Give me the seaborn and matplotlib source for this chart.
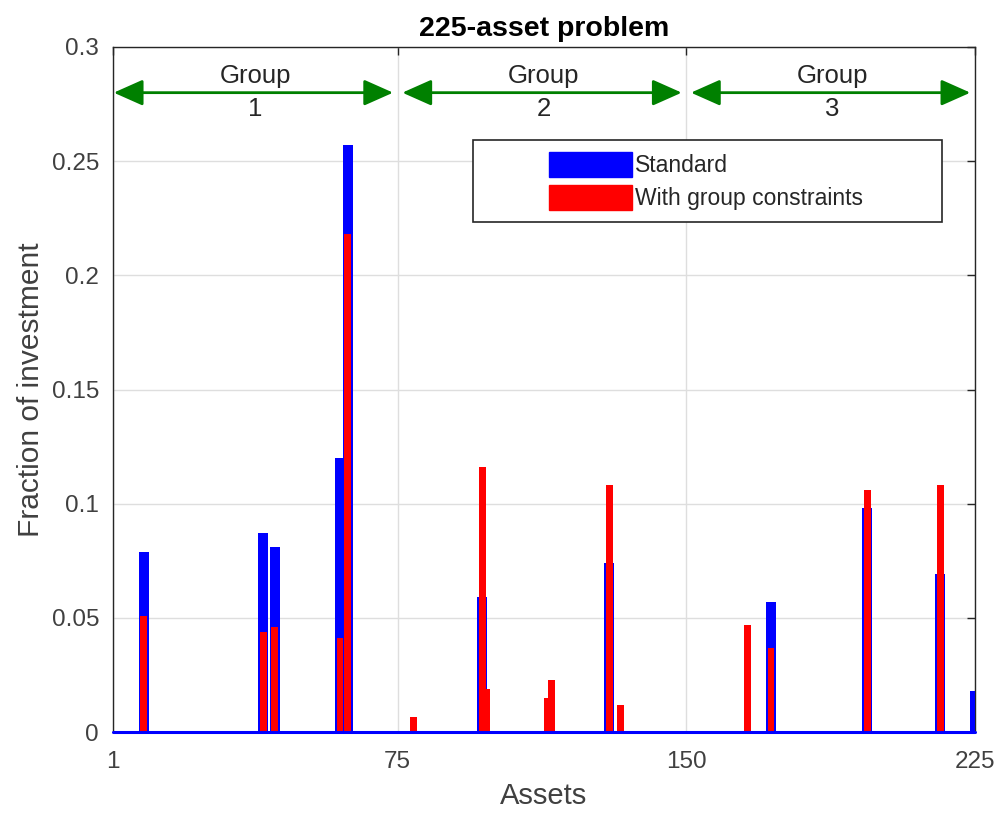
import matplotlib
matplotlib.use("Agg")
import matplotlib.pyplot as plt
import seaborn as sns
import pandas as pd
import numpy as np
from matplotlib.patches import Patch, Rectangle, ArrowStyle

# data (only non-zero weights, everything else is 0)
n_assets = 225
std_assets = [9, 40, 43, 60, 62, 97, 130, 172, 197, 216, 225]
std_weights = [0.079, 0.087, 0.081, 0.120, 0.257, 0.059, 0.074, 0.057, 0.098, 0.069, 0.018]
grp_assets = [9, 40, 43, 60, 62, 79, 97, 98, 114, 115, 130, 133, 166, 172, 197, 216]
grp_weights = [0.051, 0.044, 0.046, 0.041, 0.218, 0.0066, 0.116, 0.019, 0.015, 0.023,
               0.108, 0.012, 0.047, 0.037, 0.106, 0.108]
group_bounds = [(1, 75), (76, 150), (151, 225)]
group_names = ['1', '2', '3']
series_names = ['Standard', 'With group constraints']
xticks = [1, 75, 150, 225]

assets = np.arange(1, n_assets + 1)
std = np.zeros(n_assets)
std[np.array(std_assets) - 1] = std_weights
grp = np.zeros(n_assets)
grp[np.array(grp_assets) - 1] = grp_weights
df = pd.DataFrame({'asset': assets, 'std': std, 'grp': grp})

sns.set_style('white')
plt.rcParams['font.family'] = ['Liberation Sans', 'DejaVu Sans']

blue = '#0000ff'
red = '#ff0000'
green = '#008000'
dark = '#262626'

fig = plt.figure(figsize=(10.05, 8.13), dpi=100)
ax = fig.add_axes([0.1124, 0.0996, 0.8577, 0.8426])

sns.barplot(data=df, x='asset', y='std', native_scale=True, width=2.6, color=blue,
            saturation=1, linewidth=0, errorbar=None, ax=ax, zorder=3)
sns.barplot(data=df, x='asset', y='grp', native_scale=True, width=1.8, color=red,
            saturation=1, linewidth=0, errorbar=None, ax=ax, zorder=4)
ax.axhline(0, color=blue, lw=2.2, zorder=5, clip_on=False)

ax.set_xlim(1, 225)
ax.set_ylim(0, 0.3)
ax.set_xticks(xticks)
ax.set_xticklabels([str(t) for t in xticks])
yt = np.arange(0, 0.301, 0.05)
ax.set_yticks(yt)
ax.set_yticklabels(['%g' % round(v, 2) for v in yt])
ax.grid(True, color='#dedede', lw=1)
ax.set_axisbelow(True)
ax.tick_params(direction='in', top=True, right=True, length=6, width=1,
               color=dark, labelcolor='#404040', labelsize=17.5)
ax.tick_params(axis='x', pad=14)
ax.tick_params(axis='y', pad=10)
for s in ax.spines.values():
    s.set_color(dark)
    s.set_linewidth(1)

ax.set_xlabel('Assets', fontsize=21, color='#404040', labelpad=6)
ax.set_ylabel('Fraction of investment', fontsize=21.5, color='#404040', labelpad=5)
ax.set_title('225-asset problem', fontsize=20.5, fontweight='bold', color='black', pad=8)

# group arrows and labels
style = ArrowStyle('<|-|>', head_length=0.9, head_width=0.4)
for (lo, hi), name in zip(group_bounds, group_names):
    ax.annotate('', xy=(hi - 1.2, 0.28), xytext=(lo + 0.2, 0.28),
                arrowprops=dict(arrowstyle=style, color=green, lw=2,
                                mutation_scale=20, shrinkA=0, shrinkB=0), zorder=6)
    mid = (lo + hi) / 2
    ax.text(mid, 0.2875, 'Group', ha='center', va='center', fontsize=18.5, color='#262626')
    ax.text(mid, 0.2728, name, ha='center', va='center', fontsize=18.5, color='#262626')

# legend box
ax.add_patch(Rectangle((0.418, 0.745), 0.544, 0.119, transform=ax.transAxes,
                       facecolor='white', edgecolor=dark, lw=1.2, zorder=7))
handles = [Patch(facecolor=blue, edgecolor=blue), Patch(facecolor=red, edgecolor=red)]
leg = ax.legend(handles, series_names, loc='center', bbox_to_anchor=(0.688, 0.8045),
                frameon=False, fontsize=16.5, handlelength=3.6, handleheight=1.3,
                labelspacing=0.35, handletextpad=0.12, borderpad=0.2)
leg.set_zorder(8)
for t in leg.get_texts():
    t.set_color('#262626')

fig.savefig('out.png', dpi=100)
